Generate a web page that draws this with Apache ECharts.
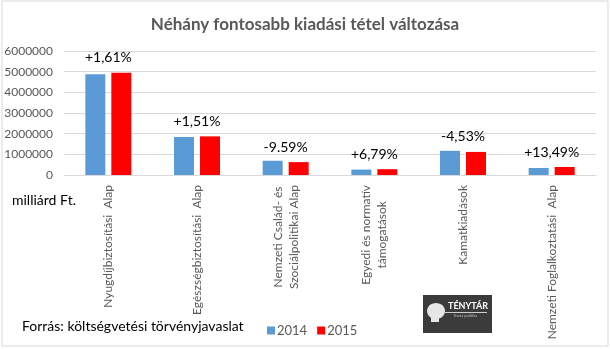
<!DOCTYPE html>
<html>
<head>
<meta charset="utf-8">
<script src="https://cdn.jsdelivr.net/npm/echarts@6/dist/echarts.min.js"></script>
<style>
  html, body { margin: 0; padding: 0; background: #fff; }
  #chart { width: 610px; height: 349px; }
</style>
</head>
<body>
<div id="chart"></div>
<script>
// Budget items (category labels use \n for the two-line names)
const categories = [
  'Nyugdíjbiztosítási  Alap',
  'Egészségbiztosítási  Alap',
  'Nemzeti Család- és\nSzociálpolitikai Alap',
  'Egyedi és normatív\ntámogatások',
  'Kamatkiadások',
  'Nemzeti Foglalkoztatási  Alap'
];
// Amounts, milliárd Ft.
const values2014 = [4870000, 1840000, 690000, 262000, 1170000, 340000];
const values2015 = [4948000, 1868000, 624000, 280000, 1117000, 386000];
// Year-on-year change shown above each pair
const changeLabels = ['+1,61%', '+1,51%', '-9.59%', '+6,79%', '-4,53%', '+13,49%'];
const yMax = 6000000;
const yStep = 1000000;

const FONT = 'Lato, "Liberation Sans", sans-serif';
const GREY = '#595959';

const chart = echarts.init(document.getElementById('chart'), null, { renderer: 'canvas' });

chart.setOption({
  animation: false,
  backgroundColor: '#ffffff',
  title: {
    text: 'Néhány fontosabb kiadási tétel változása',
    left: 'center',
    top: 11,
    textStyle: { fontFamily: FONT, fontWeight: 'bold', fontSize: 17, color: GREY }
  },
  legend: {
    data: ['2014', '2015'],
    left: 262,
    top: 319,
    itemWidth: 8,
    itemHeight: 8,
    itemGap: 10,
    icon: 'rect',
    textStyle: { fontFamily: FONT, fontSize: 13, color: GREY, padding: [0, 0, 0, -3] }
  },
  grid: { left: 64, right: 14, top: 51, bottom: 174, containLabel: false },
  xAxis: {
    type: 'category',
    data: categories,
    axisLine: { lineStyle: { color: '#d9d9d9' } },
    axisTick: { show: false },
    axisLabel: {
      rotate: 90,
      interval: 0,
      margin: 10,
      fontFamily: FONT,
      fontSize: 12,
      color: GREY,
      lineHeight: 16,
      formatter: function (v) {
        return v.split('\n').map(function (s) { return '{c|' + s + '}'; }).join('\n');
      },
      rich: { c: { align: 'center', fontFamily: FONT, fontSize: 12, color: GREY, lineHeight: 16 } }
    }
  },
  yAxis: {
    type: 'value',
    min: 0,
    max: yMax,
    interval: yStep,
    axisLine: { show: false },
    axisTick: { show: false },
    splitLine: { lineStyle: { color: '#d9d9d9', width: 1 } },
    axisLabel: {
      margin: 11,
      fontFamily: FONT,
      fontSize: 12,
      color: GREY,
      formatter: function (v) { return String(v); }
    }
  },
  series: [
    {
      name: '2014',
      type: 'bar',
      data: values2014,
      barWidth: 20,
      barGap: '30%',
      itemStyle: { color: '#5b9bd5' }
    },
    {
      name: '2015',
      type: 'bar',
      data: values2015,
      barWidth: 20,
      itemStyle: { color: '#ff0000' },
      label: {
        show: true,
        position: 'top',
        distance: 8,
        offset: [-13, 0],
        fontFamily: FONT,
        fontSize: 14,
        color: '#000',
        formatter: function (p) { return changeLabels[p.dataIndex]; }
      }
    }
  ],
  graphic: [
    {
      type: 'rect',
      shape: { x: 2, y: 1, width: 606, height: 345 },
      style: { fill: 'none', stroke: '#d9d9d9', lineWidth: 1 },
      silent: true
    },
    {
      type: 'text',
      left: 12,
      top: 193,
      style: { text: 'milliárd Ft.', font: '14px ' + FONT, fill: '#000' }
    },
    {
      type: 'text',
      left: 22,
      top: 319,
      style: { text: 'Forrás: költségvetési törvényjavaslat', font: '14px ' + FONT, fill: '#000' }
    },
    {
      type: 'group',
      left: 423,
      top: 295,
      children: [
        { type: 'rect', shape: { x: 0, y: 0, width: 69, height: 38 }, style: { fill: '#3b3b3b' } },
        { type: 'ellipse', shape: { cx: 13, cy: 16, rx: 9, ry: 8 }, style: { fill: '#e6e6e6' } },
        { type: 'rect', shape: { x: 8, y: 20, width: 8, height: 7 }, style: { fill: '#e6e6e6' } },
        { type: 'rect', shape: { x: 22, y: 17, width: 42, height: 1 }, style: { fill: '#cfcfcf' } },
        { type: 'text', style: { x: 25, y: 7, text: 'TÉNYTÁR', font: 'bold 9px ' + FONT, fill: '#ffffff' } },
        { type: 'text', style: { x: 30, y: 19, text: 'Tiszta politika', font: '4px ' + FONT, fill: '#bdbdbd' } }
      ]
    }
  ]
});
</script>
</body>
</html>
